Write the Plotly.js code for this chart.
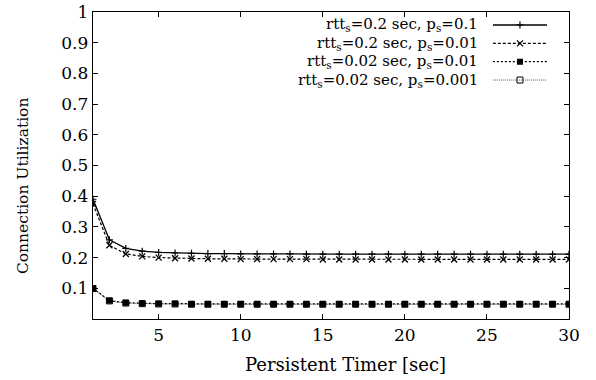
<!DOCTYPE html>
<html><head><meta charset="utf-8">
<script src="https://cdn.plot.ly/plotly-3.0.1.min.js"></script>
<style>body{margin:0;background:#fff}#c{width:596px;height:380px}</style>
</head><body><div id="c"></div>
<script>
const timer = [1,2,3,4,5,6,7,8,9,10,11,12,13,14,15,16,17,18,19,20,21,22,23,24,25,26,27,28,29,30];
const s1 = [0.390,0.258,0.230,0.221,0.217,0.215,0.214,0.213,0.213,0.212,0.212,0.212,0.212,0.211,0.211,0.211,0.211,0.211,0.211,0.211,0.211,0.211,0.211,0.211,0.211,0.211,0.211,0.211,0.211,0.211];
const s2 = [0.375,0.240,0.212,0.204,0.200,0.198,0.197,0.196,0.196,0.195,0.195,0.195,0.195,0.195,0.194,0.194,0.194,0.194,0.194,0.194,0.194,0.194,0.194,0.194,0.194,0.194,0.194,0.194,0.194,0.194];
const s3 = [0.100,0.060,0.053,0.051,0.050,0.050,0.049,0.049,0.049,0.049,0.049,0.049,0.049,0.049,0.049,0.049,0.049,0.049,0.049,0.049,0.049,0.049,0.049,0.049,0.049,0.049,0.049,0.049,0.049,0.049];
const s4 = [0.099,0.059,0.052,0.050,0.049,0.049,0.048,0.048,0.048,0.048,0.048,0.048,0.048,0.048,0.048,0.048,0.048,0.048,0.048,0.048,0.048,0.048,0.048,0.048,0.048,0.048,0.048,0.048,0.048,0.048];
const labels = ["rtt<sub>s</sub>=0.2 sec, p<sub>s</sub>=0.1","rtt<sub>s</sub>=0.2 sec, p<sub>s</sub>=0.01","rtt<sub>s</sub>=0.02 sec, p<sub>s</sub>=0.01","rtt<sub>s</sub>=0.02 sec, p<sub>s</sub>=0.001"];
const yTicks = [0.1,0.2,0.3,0.4,0.5,0.6,0.7,0.8,0.9,1];
const yTickText = ["0.1","0.2","0.3","0.4","0.5","0.6","0.7","0.8","0.9","1"];
const xTicks = [5,10,15,20,25,30];
const xTitle = "Persistent Timer [sec]";
const yTitle = "Connection Utilization";

const font = "DejaVu Serif";
const series = [s1,s2,s3,s4];
const styles = [
  {line:{color:'#000',width:1.3},marker:{symbol:'cross-thin',size:5,color:'#000',line:{width:1.2,color:'#000'}}},
  {line:{color:'#000',width:1.2,dash:'3px,2px'},marker:{symbol:'x-thin',size:6,color:'#000',line:{width:1.3,color:'#000'}}},
  {line:{color:'#000',width:1.2,dash:'2px,2px'},marker:{symbol:'square',size:6,color:'#000'}},
  {line:{color:'#555',width:1,dash:'1px,1px'},marker:{symbol:'square-open',size:6,color:'#000',line:{width:1,color:'#000'}}}
];
const drawOrder = [3,2,1,0];
const traces = drawOrder.map(i=>Object.assign({x:timer,y:series[i],mode:'lines+markers',name:labels[i],showlegend:false},JSON.parse(JSON.stringify(styles[i]))));
// key samples on a small overlay axis (one row per series)
const keyX = [0,0.5,1];
labels.forEach((lab,i)=>{
  const st = JSON.parse(JSON.stringify(styles[i]));
  st.marker.opacity = [0,1,0];
  traces.push(Object.assign({x:keyX,y:keyX.map(()=>i),xaxis:'x2',yaxis:'y2',mode:'lines+markers',showlegend:false,hoverinfo:'skip'},st));
});

const annotations = labels.map((t,i)=>({xref:'paper',yref:'y2',x:0.812,y:i,xanchor:'right',yanchor:'middle',text:t,showarrow:false,font:{family:font,size:15,color:'#000'}}));
annotations.push({xref:'paper',yref:'paper',x:0.5315,y:-0.147,xanchor:'center',yanchor:'middle',text:xTitle,showarrow:false,font:{family:font,size:18,color:'#000'}});
annotations.push({xref:'paper',yref:'paper',x:-0.147,y:0.433,xanchor:'center',yanchor:'middle',textangle:-90,text:yTitle,showarrow:false,font:{family:font,size:15.5,color:'#000'}});

const layout = {
  width:596,height:380,
  margin:{l:93,r:27,t:12,b:61},
  paper_bgcolor:'#fff',plot_bgcolor:'#fff',
  font:{family:font,size:16,color:'#000'},
  showlegend:false,
  xaxis:{range:[1,30],tickvals:xTicks,ticks:'inside',ticklen:5,tickcolor:'#000',showgrid:false,zeroline:false,showline:true,linecolor:'#000',linewidth:1.3,mirror:'ticks',
    tickfont:{family:font,size:17}},
  yaxis:{range:[0,1],tickvals:yTicks,ticktext:yTickText,ticks:'inside',ticklen:5,tickcolor:'#000',showgrid:false,zeroline:false,showline:true,linecolor:'#000',linewidth:1.3,mirror:'ticks',
    tickfont:{family:font,size:17}},
  xaxis2:{domain:[0.840,0.954],range:[0,1],anchor:'y2',visible:false,fixedrange:true},
  yaxis2:{domain:[0.7485,0.9876],range:[3.5,-0.5],anchor:'x2',visible:false,fixedrange:true},
  annotations:annotations
};
Plotly.newPlot('c',traces,layout,{displayModeBar:false,staticPlot:true});
</script></body></html>
